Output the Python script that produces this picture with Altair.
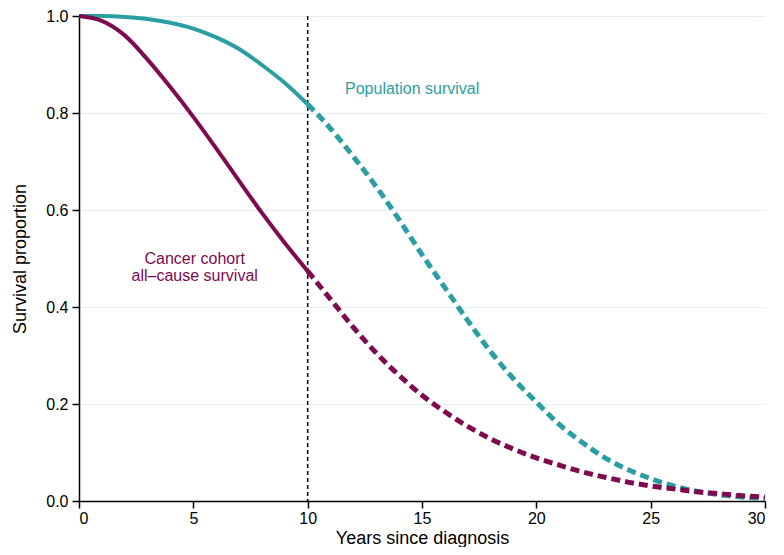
import altair as alt
import pandas as pd

# ---- data ----
years = list(range(0, 31))
population = [1.000, 1.000, 0.998, 0.994, 0.986, 0.974, 0.956, 0.932, 0.899, 0.862,
              0.818, 0.768, 0.710, 0.648, 0.580, 0.508, 0.440, 0.372, 0.308, 0.252,
              0.204, 0.158, 0.121, 0.089, 0.065, 0.046, 0.031, 0.020, 0.013, 0.008,
              0.005]
cancer = [1.000, 0.990, 0.960, 0.910, 0.853, 0.792, 0.727, 0.660, 0.594, 0.532,
          0.474, 0.416, 0.358, 0.305, 0.259, 0.218, 0.184, 0.154, 0.128, 0.107,
          0.089, 0.074, 0.060, 0.049, 0.039, 0.031, 0.025, 0.019, 0.015, 0.011,
          0.008]
series_names = ["Population survival", "Cancer cohort all-cause survival"]
cutoff_year = 10
x_ticks = [0, 5, 10, 15, 20, 25, 30]
y_ticks = [0.0, 0.2, 0.4, 0.6, 0.8, 1.0]

TEAL = "#2a9ea3"
MAROON = "#7e0a4f"
FONT = "Liberation Sans"

rows = []
for name, vals in zip(series_names, [population, cancer]):
    for yr, v in zip(years, vals):
        if yr <= cutoff_year:
            rows.append({"year": yr, "value": v, "series": name, "segment": "solid"})
        if yr >= cutoff_year:
            rows.append({"year": yr, "value": v, "series": name, "segment": "dashed"})
df = pd.DataFrame(rows)

PLOT_W = 686
PLOT_H = 485
x_enc = alt.X("year:Q",
              scale=alt.Scale(domain=[0, 30], nice=False, zero=False),
              axis=alt.Axis(values=x_ticks, title="Years since diagnosis", grid=False,
                            labelFontSize=16, titleFontSize=18, labelPadding=2,
                            titleX=PLOT_W / 2, titleY=42, titleBaseline="alphabetic",
                            titleAlign="center"))
y_enc = alt.Y("value:Q",
              scale=alt.Scale(domain=[0, 1], nice=False),
              axis=alt.Axis(values=y_ticks, format=".1f", title="Survival proportion",
                            grid=True, gridColor="#e5eef0", gridWidth=1,
                            labelFontSize=16, titleFontSize=18, labelPadding=4,
                            titleX=-54, titleY=PLOT_H / 2, titleAngle=-90,
                            titleBaseline="alphabetic", titleAlign="center"))
color_enc = alt.Color("series:N",
                      scale=alt.Scale(domain=series_names, range=[TEAL, MAROON]),
                      legend=None)

base = alt.Chart(df)

rule = alt.Chart(pd.DataFrame({"year": [cutoff_year]})).mark_rule(
    color="black", strokeWidth=1.5, strokeDash=[4, 3]
).encode(x=alt.X("year:Q"))

solid = base.transform_filter("datum.segment == 'solid'").mark_line(
    strokeWidth=4, interpolate="monotone"
).encode(x=x_enc, y=y_enc, color=color_enc)

dashed = base.transform_filter("datum.segment == 'dashed'").mark_line(
    strokeWidth=5, interpolate="monotone", strokeDash=[9, 5]
).encode(x=x_enc, y=y_enc, color=color_enc)

pop_label = alt.Chart().mark_text(
    text="Population survival", color=TEAL, font=FONT, fontSize=16,
    align="center", baseline="middle"
).encode(x=alt.datum(14.57), y=alt.datum(0.85))

can_label = alt.Chart().mark_text(
    text=["Cancer cohort", "all\u2013cause survival"], color=MAROON, font=FONT,
    fontSize=16, lineHeight=17, align="center", baseline="middle"
).encode(x=alt.datum(5.06), y=alt.datum(0.50))

chart = alt.layer(rule, solid, dashed, pop_label, can_label).properties(
    width=PLOT_W, height=PLOT_H, autosize="none",
    padding={"left": 71, "top": 8, "right": 11, "bottom": 46}
).configure_view(stroke=None).configure_axis(
    labelFont=FONT, titleFont=FONT, labelColor="black", titleColor="black",
    titleFontWeight="normal", domainColor="black", domainWidth=1.5,
    tickColor="black", tickWidth=1.5, tickSize=7
)

chart.save("out.html", embed_options={"renderer": "svg", "actions": False})
